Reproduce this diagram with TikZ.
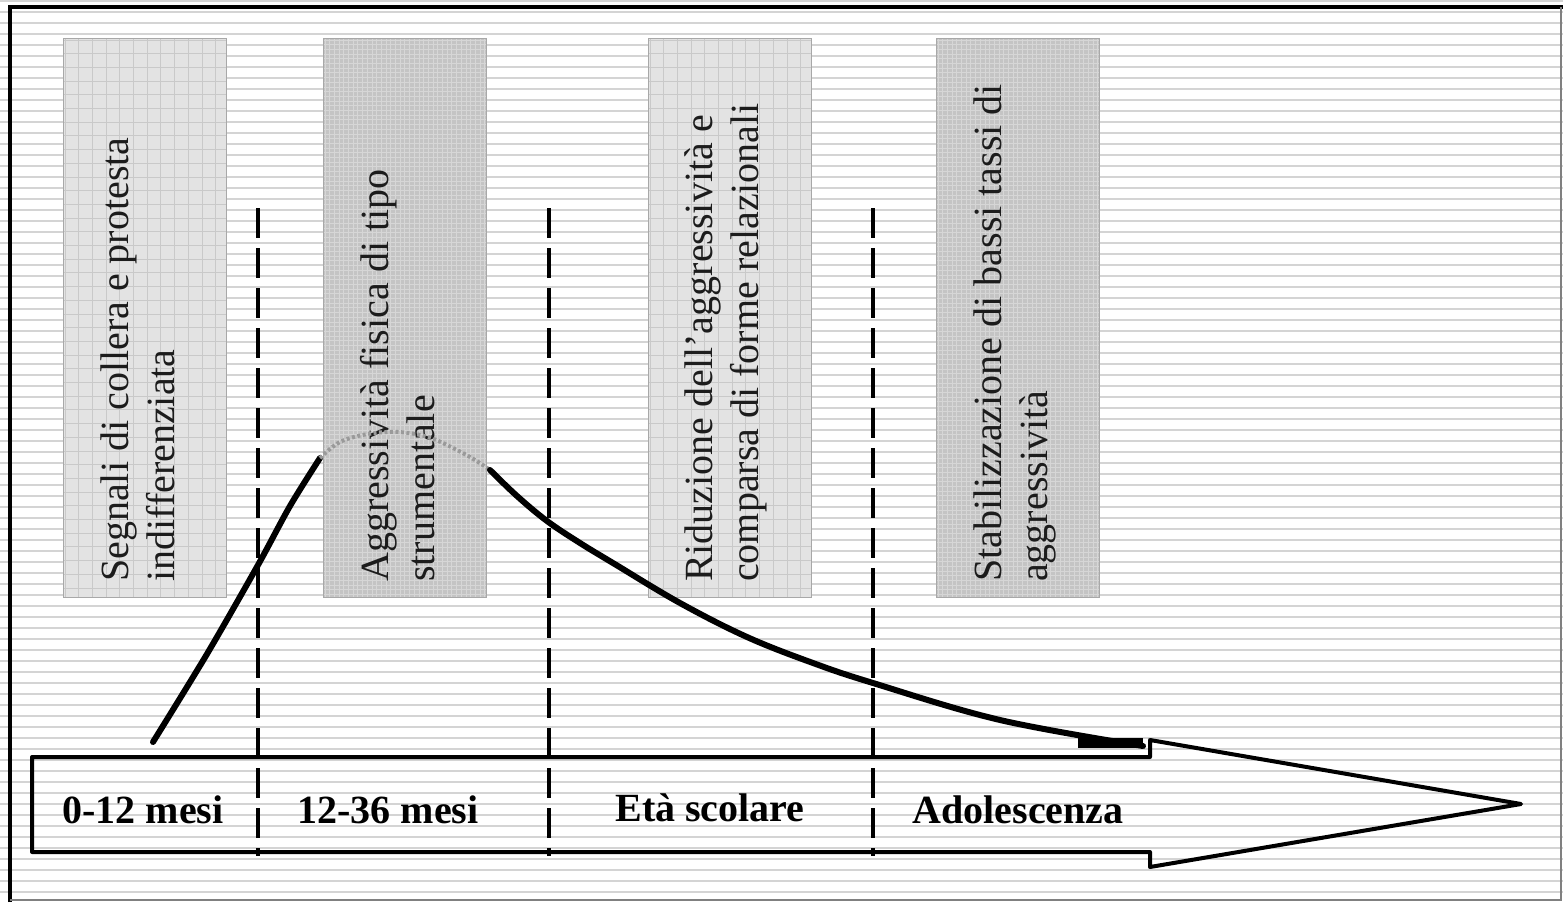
\documentclass[tikz,border=0pt]{standalone}
\usepackage{fontspec}
\setmainfont{Liberation Serif}
\definecolor{stripe}{HTML}{D4D4D4}
\definecolor{lightfill}{HTML}{E3E3E3}
\definecolor{lightgrid}{HTML}{C9C9C9}
\definecolor{darkfill}{HTML}{C4C4C4}
\definecolor{darkgrid}{HTML}{D6D6D6}
\definecolor{boxedge}{HTML}{A8A8A8}
\definecolor{txt}{HTML}{1C1C1C}
\definecolor{peakdots}{HTML}{9A9A9A}
\begin{document}
\begin{tikzpicture}[x=1pt,y=-1pt,
  phasebox/.style={draw=boxedge, line width=0.8pt},
  phasetext/.style={rotate=90, anchor=base west, inner sep=0pt,
    font=\fontsize{40}{46}\selectfont, text=txt},
  agelabel/.style={anchor=base, inner sep=0pt,
    font=\fontsize{40}{46}\selectfont\bfseries},
  divider/.style={line width=4.5pt, dash pattern=on 30pt off 10pt},
  trend/.style={line width=6pt, line cap=round, line join=round},
  timeline/.style={draw, line width=4pt, line join=round}
]
\useasboundingbox (0,0) rectangle (1563,902);

% striped background
\fill[white] (0,0) rectangle (1563,902);
\foreach \k in {0,...,81}
  \draw[stripe, line width=2.2pt] (0,{1.3+11*\k}) -- (1563,{1.3+11*\k});

% frame
\draw[line width=4pt] (10,902) -- (10,7) -- (1563,7);
\draw[gray, line width=1.5pt] (1561,7) -- (1561,900) -- (10,900);

% light boxes with a coarse grid
\foreach \bx in {63,648}{
  \fill[lightfill] (\bx,38) rectangle ({\bx+163},597);
  \begin{scope}
    \clip (\bx,38) rectangle ({\bx+163},597);
    \foreach \i in {0,...,12}
      \draw[lightgrid, line width=1pt] ({\bx+2+13.7*\i},38) -- ({\bx+2+13.7*\i},597);
    \foreach \j in {0,...,41}
      \draw[lightgrid, line width=1pt] (\bx,{40+13.7*\j}) -- ({\bx+163},{40+13.7*\j});
  \end{scope}
  \draw[phasebox] (\bx,38) rectangle ({\bx+163},597);
}
% dark boxes with a fine grid
\foreach \bx in {323,936}{
  \fill[darkfill] (\bx,38) rectangle ({\bx+163},597);
  \begin{scope}
    \clip (\bx,38) rectangle ({\bx+163},597);
    \foreach \i in {0,...,35}
      \draw[darkgrid, line width=0.9pt] ({\bx+2+4.7*\i},38) -- ({\bx+2+4.7*\i},597);
    \foreach \j in {0,...,119}
      \draw[darkgrid, line width=0.9pt] (\bx,{40+4.7*\j}) -- ({\bx+163},{40+4.7*\j});
  \end{scope}
  \draw[phasebox] (\bx,38) rectangle ({\bx+163},597);
}

% phase descriptions
\node[phasetext] (t1a) at (128,582) {Segnali di collera e protesta};
\node[phasetext] (t1b) at (174,582) {indifferenziata};
\node[phasetext] (t2a) at (388,582) {Aggressività fisica di tipo};
\node[phasetext] (t2b) at (434,582) {strumentale};
\node[phasetext] (t3a) at (712,582) {Riduzione dell’aggressività e};
\node[phasetext] (t3b) at (758,582) {comparsa di forme relazionali};
\node[phasetext] (t4a) at (1001,582) {Stabilizzazione di bassi tassi di};
\node[phasetext] (t4b) at (1047,582) {aggressività};

% timeline arrow
\draw[timeline] (32,757) -- (1150,757) -- (1150,740) -- (1521,804)
  -- (1150,867) -- (1150,852) -- (32,852) -- cycle;

% age labels
\node[agelabel] (a1) at (143,823) {0-12 mesi};
\node[agelabel] (a2) at (388,823) {12-36 mesi};
\node[agelabel] (a3) at (710,821) {Età scolare};
\node[agelabel] (a4) at (1018,823) {Adolescenza};

% phase dividers
\coordinate (d1t) at (258,208); \coordinate (d1b) at (258,856);
\coordinate (d2t) at (549,208); \coordinate (d2b) at (549,856);
\coordinate (d3t) at (873,208); \coordinate (d3b) at (873,856);
\draw[divider] (d1t) -- (d1b);
\draw[divider] (d2t) -- (d2b);
\draw[divider] (d3t) -- (d3b);

% aggression trend
\draw[trend] plot[smooth, tension=0.5] coordinates {
  (153,742) (207,654) (258,565) (290,506) (320,458)};
\draw[peakdots, line width=4pt, dash pattern=on 3pt off 2.5pt]
  plot[smooth, tension=0.6] coordinates {
  (320,458) (340,442) (368,434) (398,432) (428,437) (455,449) (475,460) (490,470)};
\draw[trend] plot[smooth, tension=0.6] coordinates {
  (490,470) (517,496) (547,521) (580,543) (613,563) (680,603) (747,637)
  (813,663) (873,683) (1000,720) (1143,746)};
\fill (1078,738) rectangle (1143,748);
\end{tikzpicture}
\end{document}
